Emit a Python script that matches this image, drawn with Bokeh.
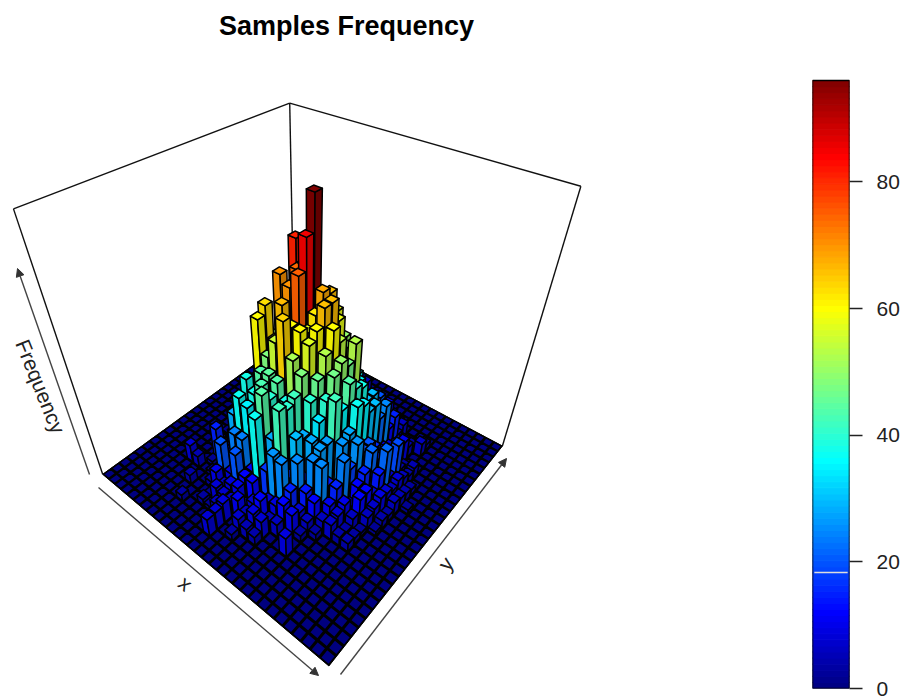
import numpy as np
from bokeh.embed import file_html
from bokeh.layouts import row
from bokeh.models import Arrow, NormalHead, Range1d, FixedTicker, LinearAxis
from bokeh.plotting import figure
from bokeh.resources import INLINE
from bokeh.core.properties import value

TITLE = "Samples Frequency"
X_LABEL = "x"
Y_LABEL = "y"
Z_LABEL = "Frequency"
Z_MAX = 96.0
BAR_TICKS = [0, 20, 40, 60, 80]
BREAK_VALUE = 18.3
SPACE = 0.13

# Frequencies, rows along x, columns along y.
freq_r00 = [0]*30
freq_r01 = [0]*30
freq_r02 = [0]*30
freq_r03 = [0]*30
freq_r04 = [0]*30
freq_r05 = [0,0,0,0,0,0,0,8,0,0,0,0,1,0,2,0,1,0,0,0,0,0,0,0,0,0,0,0,0,0]
freq_r06 = [0,0,0,0,0,0,0,5,0,0,2,0,3,4,0,3,0,2,1,0,0,0,0,0,0,0,0,0,0,0]
freq_r07 = [0,0,0,0,0,4,0,0,2,15,3,4,0,6,8,9,7,5,3,0,1,0,0,0,0,0,0,0,0,0]
freq_r08 = [0,0,0,3,0,0,0,2,0,4,6,8,10,12,14,13,10,8,5,2,0,0,0,0,0,0,0,0,0,0]
freq_r09 = [0,0,0,0,0,0,3,3,6,9,12,15,18,22,22,20,18,12,9,5,2,0,0,0,0,0,0,0,0,0]
freq_r10 = [0,0,0,0,3,2,10,20,12,28,18,38,26,30,32,30,26,20,14,8,3,0,0,0,0,0,0,0,0,0]
freq_r11 = [0,0,0,0,2,8,6,9,24,37,30,34,60,63,50,70,40,30,22,14,6,2,0,0,0,0,0,0,0,0]
freq_r12 = [0,0,0,0,6,7,9,20,24,35,38,44,48,52,56,60,81,56,44,32,20,8,0,0,0,0,0,0,0,0]
freq_r13 = [0,0,8,8,9,7,10,12,12,30,43,45,55,66,70,74,74,60,44,30,14,0,0,0,0,0,0,6,0,0]
freq_r14 = [0,0,0,0,0,10,4,12,37,44,40,44,64,60,75,85,96,62,50,36,20,8,0,0,0,0,0,0,0,0]
freq_r15 = [0,0,0,3,7,6,8,6,17,28,34,38,52,60,58,62,68,66,58,46,28,12,3,0,0,0,0,0,0,0]
freq_r16 = [0,0,0,0,5,9,12,8,26,42,40,42,48,57,60,66,66,58,50,40,30,14,5,6,0,0,0,0,0,0]
freq_r17 = [0,0,0,0,4,8,5,9,25,16,30,28,40,46,53,60,54,50,42,35,24,12,6,8,5,0,0,0,0,0]
freq_r18 = [0,0,0,0,0,0,6,12,15,25,14,28,34,40,47,50,47,53,36,28,25,15,20,9,12,5,0,0,0,0]
freq_r19 = [0,0,0,0,0,0,0,10,8,14,25,27,27,42,36,44,40,38,30,30,18,12,6,3,6,3,0,0,0,0]
freq_r20 = [0,0,0,0,0,9,0,3,6,12,25,14,8,26,28,37,35,30,30,22,25,12,15,4,6,0,0,0,0,0]
freq_r21 = [0,0,0,0,0,0,0,0,3,6,10,15,24,18,26,20,20,16,12,10,8,6,5,3,0,0,0,0,0,0]
freq_r22 = [0,0,0,0,0,0,0,0,0,7,8,10,6,12,15,22,16,14,10,8,6,10,5,3,0,0,0,0,0,0]
freq_r23 = [0,0,0,0,0,0,0,0,0,4,3,6,12,12,8,14,22,7,19,5,3,0,0,6,3,0,0,0,0,0]
freq_r24 = [0,0,0,0,0,0,0,0,0,4,3,2,6,7,9,8,6,8,6,4,5,0,0,0,0,0,0,0,0,0]
freq_r25 = [0,0,0,0,0,0,0,0,0,0,0,0,2,4,3,6,5,4,3,0,0,0,0,0,0,0,0,0,0,0]
freq_r26 = [0,0,0,0,0,0,0,0,0,0,0,0,0,0,0,0,2,0,0,0,0,0,0,0,0,0,0,0,0,0]
freq_r27 = [0]*30
freq_r28 = [0]*30
freq_r29 = [0]*30

freq = np.array([freq_r00, freq_r01, freq_r02, freq_r03, freq_r04, freq_r05, freq_r06, freq_r07,
                 freq_r08, freq_r09, freq_r10, freq_r11, freq_r12, freq_r13, freq_r14, freq_r15,
                 freq_r16, freq_r17, freq_r18, freq_r19, freq_r20, freq_r21, freq_r22, freq_r23,
                 freq_r24, freq_r25, freq_r26, freq_r27, freq_r28, freq_r29], float)
N = freq.shape[0]

JET = np.array([(0,0,127),(0,0,255),(0,127,255),(0,255,255),(127,255,127),
                (255,255,0),(255,127,0),(255,0,0),(127,0,0)], float)

def jet(v):
    t = np.clip(v / Z_MAX, 0, 1) * (len(JET) - 1)
    k = min(int(t), len(JET) - 2)
    return JET[k] + (JET[k + 1] - JET[k]) * (t - k)

def css(rgb, f=1.0):
    return "#%02x%02x%02x" % tuple(int(round(c * f)) for c in rgb)

# Camera: a projective map fitted to the box corners of the picture.
cam_world = [(0,0,0),(1,0,0),(1,1,0),(0,1,0),(0,0,1),(1,1,1),(0,1,1)]
cam_screen = [(101,473),(329,666),(501,445),(295,336),(14,209),(581,186),(288,102)]
rows_, rhs = [], []
for (x, y, z), (u, v) in zip(cam_world, cam_screen):
    rows_.append([x,y,z,1,0,0,0,0,-u*x,-u*y,-u*z]); rhs.append(u)
    rows_.append([0,0,0,0,x,y,z,1,-v*x,-v*y,-v*z]); rhs.append(v)
P = np.append(np.linalg.lstsq(np.array(rows_, float), np.array(rhs, float), rcond=None)[0], 1).reshape(3, 4)

def proj(x, y, z):
    w = P @ np.array([x, y, z, 1.0])
    return w[0] / w[2], w[1] / w[2]

def poly(pts):
    s = [proj(*q) for q in pts]
    return [a for a, _ in s], [b for _, b in s]

xs, ys, fills = [], [], []
def add(pts, colour):
    a, b = poly(pts)
    xs.append(a); ys.append(b); fills.append(colour)

inset = SPACE / 2 / N
for i in range(N):               # far to near
    for j in range(N - 1, -1, -1):
        v = freq[i, j]
        c = jet(v)
        x0, x1, y0, y1 = i / N + inset, (i + 1) / N - inset, j / N + inset, (j + 1) / N - inset
        z = v / Z_MAX
        if v > 0:
            add([(x0,y0,0),(x1,y0,0),(x1,y0,z),(x0,y0,z)], css(c, 0.93))
            add([(x1,y0,0),(x1,y1,0),(x1,y1,z),(x1,y0,z)], css(c, 0.76))
        add([(x0,y0,z),(x1,y0,z),(x1,y1,z),(x0,y1,z)], css(c))

main = figure(frame_width=768, frame_height=688, min_border_top=0, min_border_left=0, min_border_right=0,
              min_border_bottom=12, x_range=Range1d(0, 768), y_range=Range1d(688, 0),
              output_backend="svg", toolbar_location=None)
main.axis.visible = False
main.grid.visible = False
main.outline_line_color = None

main.text([346], [25], text=[TITLE], text_font=value("Liberation Sans"), text_font_size="27px",
          text_font_style="bold", text_color="black", text_align="center", text_baseline="middle")

# Box edges behind the bars.
for a, b in [((0,0,1),(0,1,1)), ((0,1,1),(1,1,1)), ((0,0,0),(0,0,1)), ((1,1,0),(1,1,1)), ((0,1,0),(0,1,1))]:
    s, t = proj(*a), proj(*b)
    main.line([s[0], t[0]], [s[1], t[1]], line_color="#111111", line_width=1.4)

fx, fy = poly([(0,0,0),(1,0,0),(1,1,0),(0,1,0)])
main.patch(fx, fy, fill_color="black", line_color="black", line_width=1)
main.patches(xs, ys, fill_color=fills, line_color="black", line_width=1.5, line_join="round")

for sx, sy, ex, ey in [(98,487,318,675), (340,674,506,458), (89,474,17,268)]:
    main.add_layout(Arrow(end=NormalHead(size=8, fill_color="#333333", line_color="#333333"),
                          x_start=sx, y_start=sy, x_end=ex, y_end=ey, line_color="#444444", line_width=1.4))

lab = dict(text_font=value("Liberation Sans"), text_font_size="21px", text_color="#222222",
           text_align="center", text_baseline="middle")
main.text([185], [583], text=[X_LABEL], angle=[-40], angle_units="deg", **lab)
main.text([445], [563], text=[Y_LABEL], angle=[52], angle_units="deg", **lab)
main.text([40], [386], text=[Z_LABEL], angle=[-68], angle_units="deg", **lab)

# Colour bar: the frame runs to the top of the page, the scale keeps 608 px for Z_MAX.
bar = figure(frame_width=37, frame_height=688, min_border_top=0, min_border_bottom=12, min_border_left=44,
             min_border_right=60, x_range=Range1d(0, 1), y_range=Range1d(0, Z_MAX * 688 / 608),
             output_backend="svg", toolbar_location=None)
levels = np.linspace(0, Z_MAX, 101)
shades = [css(jet((levels[k] + levels[k + 1]) / 2)) for k in range(100)]
bar.quad(left=0, right=1, bottom=levels[:-1], top=levels[1:], fill_color=shades, line_color=shades, line_width=1)
bar.quad(left=[0.05], right=[0.95], bottom=[BREAK_VALUE - 0.12], top=[BREAK_VALUE + 0.12], fill_color="#dddddd", line_color=None)
bar.quad(left=[0], right=[1], bottom=[0], top=[Z_MAX], fill_color=None, line_color="black", line_width=1.5)
bar.xaxis.visible = False
bar.yaxis.visible = False
bar.grid.visible = False
bar.outline_line_color = None
ax = LinearAxis(ticker=FixedTicker(ticks=BAR_TICKS), axis_line_color=None, major_tick_line_color="#222222",
                major_tick_line_width=1.3, major_tick_in=0, major_tick_out=13, minor_tick_line_color=None,
                major_label_standoff=14, major_label_text_font="Liberation Sans", major_label_text_font_size="21px",
                major_label_text_color="#222222")
bar.add_layout(ax, "right")

page = row(main, bar, spacing=0)
open("out.html", "w").write(file_html(page, INLINE))
